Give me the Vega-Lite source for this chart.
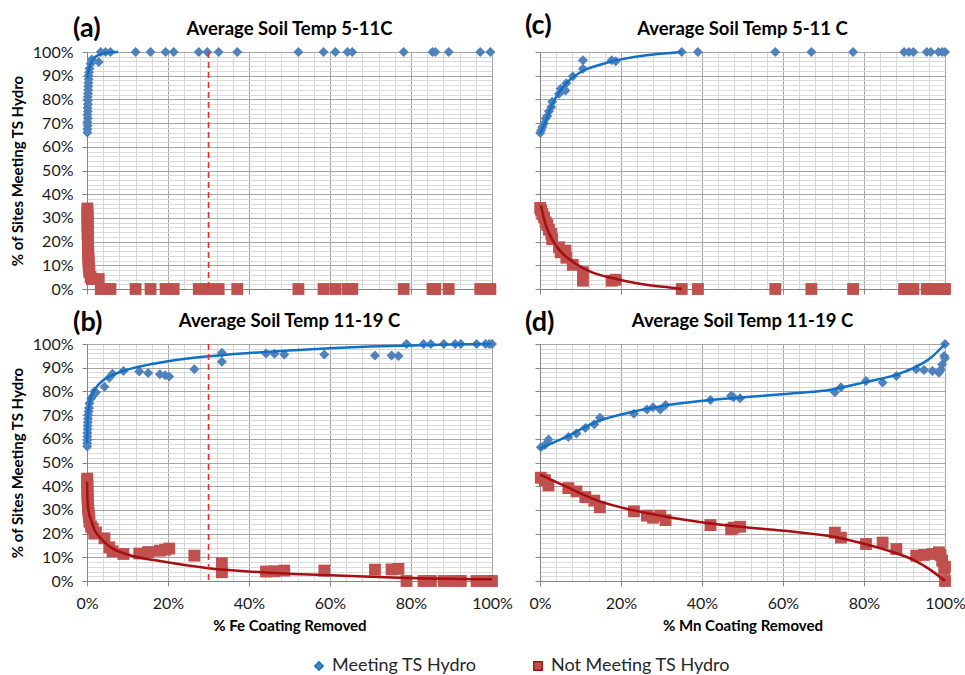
{
  "$schema": "https://vega.github.io/schema/vega-lite/v6.json",
  "background": "white",
  "padding": {"left": 10, "top": 12, "right": 0, "bottom": 0},
  "bounds": "flush",
  "columns": 2,
  "spacing": {"row": 55, "column": 48},
  "datasets": {
    "a_pts": [
      {"x":0.1,"y":66,"s":"Meeting TS Hydro"},{"x":0.1,"y":67.5,"s":"Meeting TS Hydro"},{"x":0.15,"y":69,"s":"Meeting TS Hydro"},{"x":0.1,"y":70.5,"s":"Meeting TS Hydro"},{"x":0.2,"y":72,"s":"Meeting TS Hydro"},{"x":0.1,"y":73.5,"s":"Meeting TS Hydro"},{"x":0.2,"y":75,"s":"Meeting TS Hydro"},{"x":0.15,"y":76.5,"s":"Meeting TS Hydro"},{"x":0.2,"y":78,"s":"Meeting TS Hydro"},{"x":0.25,"y":79.5,"s":"Meeting TS Hydro"},{"x":0.2,"y":81,"s":"Meeting TS Hydro"},{"x":0.25,"y":82.5,"s":"Meeting TS Hydro"},{"x":0.3,"y":84,"s":"Meeting TS Hydro"},{"x":0.3,"y":85.5,"s":"Meeting TS Hydro"},{"x":0.35,"y":87,"s":"Meeting TS Hydro"},{"x":0.4,"y":88.5,"s":"Meeting TS Hydro"},{"x":0.4,"y":90,"s":"Meeting TS Hydro"},{"x":0.5,"y":91.5,"s":"Meeting TS Hydro"},{"x":0.6,"y":93,"s":"Meeting TS Hydro"},{"x":0.9,"y":95,"s":"Meeting TS Hydro"},{"x":1.2,"y":96.8,"s":"Meeting TS Hydro"},{"x":2.9,"y":95.8,"s":"Meeting TS Hydro"},
      {"x":3.4,"y":100,"s":"Meeting TS Hydro"},{"x":4.6,"y":100,"s":"Meeting TS Hydro"},{"x":5.8,"y":100,"s":"Meeting TS Hydro"},{"x":12.0,"y":100,"s":"Meeting TS Hydro"},{"x":15.7,"y":100,"s":"Meeting TS Hydro"},{"x":19.4,"y":100,"s":"Meeting TS Hydro"},{"x":21.4,"y":100,"s":"Meeting TS Hydro"},{"x":27.6,"y":100,"s":"Meeting TS Hydro"},{"x":29.7,"y":100,"s":"Meeting TS Hydro"},{"x":32.5,"y":100,"s":"Meeting TS Hydro"},{"x":37.1,"y":100,"s":"Meeting TS Hydro"},{"x":52.2,"y":100,"s":"Meeting TS Hydro"},{"x":58.4,"y":100,"s":"Meeting TS Hydro"},{"x":61.3,"y":100,"s":"Meeting TS Hydro"},{"x":64.3,"y":100,"s":"Meeting TS Hydro"},{"x":65.5,"y":100,"s":"Meeting TS Hydro"},{"x":78.2,"y":100,"s":"Meeting TS Hydro"},{"x":85.3,"y":100,"s":"Meeting TS Hydro"},{"x":86.0,"y":100,"s":"Meeting TS Hydro"},{"x":89.3,"y":100,"s":"Meeting TS Hydro"},{"x":97.1,"y":100,"s":"Meeting TS Hydro"},{"x":99.6,"y":100,"s":"Meeting TS Hydro"},
      {"x":0.1,"y":34,"s":"Not Meeting TS Hydro"},{"x":0.1,"y":32.5,"s":"Not Meeting TS Hydro"},{"x":0.15,"y":31,"s":"Not Meeting TS Hydro"},{"x":0.1,"y":29.5,"s":"Not Meeting TS Hydro"},{"x":0.2,"y":28,"s":"Not Meeting TS Hydro"},{"x":0.1,"y":26.5,"s":"Not Meeting TS Hydro"},{"x":0.2,"y":25,"s":"Not Meeting TS Hydro"},{"x":0.15,"y":23.5,"s":"Not Meeting TS Hydro"},{"x":0.2,"y":22,"s":"Not Meeting TS Hydro"},{"x":0.25,"y":20.5,"s":"Not Meeting TS Hydro"},{"x":0.2,"y":19,"s":"Not Meeting TS Hydro"},{"x":0.25,"y":17.5,"s":"Not Meeting TS Hydro"},{"x":0.3,"y":16,"s":"Not Meeting TS Hydro"},{"x":0.3,"y":14.5,"s":"Not Meeting TS Hydro"},{"x":0.35,"y":13,"s":"Not Meeting TS Hydro"},{"x":0.4,"y":11.5,"s":"Not Meeting TS Hydro"},{"x":0.4,"y":10,"s":"Not Meeting TS Hydro"},{"x":0.5,"y":8.5,"s":"Not Meeting TS Hydro"},{"x":0.6,"y":7,"s":"Not Meeting TS Hydro"},{"x":0.9,"y":5,"s":"Not Meeting TS Hydro"},{"x":1.2,"y":4.2,"s":"Not Meeting TS Hydro"},{"x":2.9,"y":4.2,"s":"Not Meeting TS Hydro"},
      {"x":3.4,"y":0,"s":"Not Meeting TS Hydro"},{"x":4.6,"y":0,"s":"Not Meeting TS Hydro"},{"x":5.8,"y":0,"s":"Not Meeting TS Hydro"},{"x":12.0,"y":0,"s":"Not Meeting TS Hydro"},{"x":15.7,"y":0,"s":"Not Meeting TS Hydro"},{"x":19.4,"y":0,"s":"Not Meeting TS Hydro"},{"x":21.4,"y":0,"s":"Not Meeting TS Hydro"},{"x":27.6,"y":0,"s":"Not Meeting TS Hydro"},{"x":29.7,"y":0,"s":"Not Meeting TS Hydro"},{"x":32.5,"y":0,"s":"Not Meeting TS Hydro"},{"x":37.1,"y":0,"s":"Not Meeting TS Hydro"},{"x":52.2,"y":0,"s":"Not Meeting TS Hydro"},{"x":58.4,"y":0,"s":"Not Meeting TS Hydro"},{"x":61.3,"y":0,"s":"Not Meeting TS Hydro"},{"x":64.3,"y":0,"s":"Not Meeting TS Hydro"},{"x":65.5,"y":0,"s":"Not Meeting TS Hydro"},{"x":78.2,"y":0,"s":"Not Meeting TS Hydro"},{"x":85.3,"y":0,"s":"Not Meeting TS Hydro"},{"x":86.0,"y":0,"s":"Not Meeting TS Hydro"},{"x":89.3,"y":0,"s":"Not Meeting TS Hydro"},{"x":97.1,"y":0,"s":"Not Meeting TS Hydro"},{"x":99.6,"y":0,"s":"Not Meeting TS Hydro"}
    ],
    "a_fit": [
      {"x":0.1,"y":89,"s":"Meeting TS Hydro"},{"x":0.5,"y":93,"s":"Meeting TS Hydro"},{"x":1,"y":95.5,"s":"Meeting TS Hydro"},{"x":2,"y":97.8,"s":"Meeting TS Hydro"},{"x":3,"y":98.8,"s":"Meeting TS Hydro"},{"x":4,"y":99.4,"s":"Meeting TS Hydro"},{"x":5,"y":99.7,"s":"Meeting TS Hydro"},{"x":6,"y":99.9,"s":"Meeting TS Hydro"},{"x":7.7,"y":100,"s":"Meeting TS Hydro"}
    ],
    "b_pts": [
      {"x":0.05,"y":56.8,"s":"Meeting TS Hydro"},{"x":0.05,"y":58,"s":"Meeting TS Hydro"},{"x":0.1,"y":59.5,"s":"Meeting TS Hydro"},{"x":0.1,"y":61,"s":"Meeting TS Hydro"},{"x":0.1,"y":62.5,"s":"Meeting TS Hydro"},{"x":0.15,"y":64,"s":"Meeting TS Hydro"},{"x":0.15,"y":65.5,"s":"Meeting TS Hydro"},{"x":0.2,"y":67,"s":"Meeting TS Hydro"},{"x":0.25,"y":68.5,"s":"Meeting TS Hydro"},{"x":0.3,"y":70,"s":"Meeting TS Hydro"},{"x":0.4,"y":71.5,"s":"Meeting TS Hydro"},{"x":0.5,"y":73,"s":"Meeting TS Hydro"},{"x":0.6,"y":75,"s":"Meeting TS Hydro"},{"x":1,"y":77,"s":"Meeting TS Hydro"},{"x":1.4,"y":78,"s":"Meeting TS Hydro"},{"x":1.8,"y":80,"s":"Meeting TS Hydro"},{"x":2.2,"y":79.5,"s":"Meeting TS Hydro"},{"x":4.3,"y":82,"s":"Meeting TS Hydro"},{"x":5.5,"y":85.8,"s":"Meeting TS Hydro"},{"x":6.3,"y":87.5,"s":"Meeting TS Hydro"},{"x":9,"y":88.6,"s":"Meeting TS Hydro"},{"x":12.9,"y":88.4,"s":"Meeting TS Hydro"},{"x":15.1,"y":87.8,"s":"Meeting TS Hydro"},{"x":18,"y":87.2,"s":"Meeting TS Hydro"},{"x":19.3,"y":86.8,"s":"Meeting TS Hydro"},{"x":20.3,"y":86.3,"s":"Meeting TS Hydro"},{"x":26.5,"y":89.3,"s":"Meeting TS Hydro"},{"x":33.3,"y":96.3,"s":"Meeting TS Hydro"},{"x":33.3,"y":92.5,"s":"Meeting TS Hydro"},{"x":44.2,"y":96,"s":"Meeting TS Hydro"},{"x":46.3,"y":95.9,"s":"Meeting TS Hydro"},{"x":48.7,"y":95.6,"s":"Meeting TS Hydro"},{"x":58.6,"y":95.6,"s":"Meeting TS Hydro"},{"x":71.1,"y":95.2,"s":"Meeting TS Hydro"},{"x":75.2,"y":95.1,"s":"Meeting TS Hydro"},{"x":76.9,"y":94.9,"s":"Meeting TS Hydro"},{"x":78.9,"y":100,"s":"Meeting TS Hydro"},{"x":83.1,"y":100,"s":"Meeting TS Hydro"},{"x":84.9,"y":100,"s":"Meeting TS Hydro"},{"x":88.1,"y":100,"s":"Meeting TS Hydro"},{"x":90.9,"y":100,"s":"Meeting TS Hydro"},{"x":92.3,"y":100,"s":"Meeting TS Hydro"},{"x":96.2,"y":100,"s":"Meeting TS Hydro"},{"x":98.4,"y":100,"s":"Meeting TS Hydro"},{"x":99.3,"y":100,"s":"Meeting TS Hydro"},{"x":100,"y":100,"s":"Meeting TS Hydro"},
      {"x":0.05,"y":43.2,"s":"Not Meeting TS Hydro"},{"x":0.05,"y":42,"s":"Not Meeting TS Hydro"},{"x":0.1,"y":40.5,"s":"Not Meeting TS Hydro"},{"x":0.1,"y":39,"s":"Not Meeting TS Hydro"},{"x":0.1,"y":37.5,"s":"Not Meeting TS Hydro"},{"x":0.15,"y":36,"s":"Not Meeting TS Hydro"},{"x":0.15,"y":34.5,"s":"Not Meeting TS Hydro"},{"x":0.2,"y":33,"s":"Not Meeting TS Hydro"},{"x":0.25,"y":31.5,"s":"Not Meeting TS Hydro"},{"x":0.3,"y":30,"s":"Not Meeting TS Hydro"},{"x":0.4,"y":28.5,"s":"Not Meeting TS Hydro"},{"x":0.5,"y":27,"s":"Not Meeting TS Hydro"},{"x":0.6,"y":25,"s":"Not Meeting TS Hydro"},{"x":1,"y":23,"s":"Not Meeting TS Hydro"},{"x":1.4,"y":22,"s":"Not Meeting TS Hydro"},{"x":1.8,"y":20,"s":"Not Meeting TS Hydro"},{"x":2.2,"y":20.5,"s":"Not Meeting TS Hydro"},{"x":4.3,"y":18,"s":"Not Meeting TS Hydro"},{"x":5.5,"y":14.2,"s":"Not Meeting TS Hydro"},{"x":6.3,"y":12.5,"s":"Not Meeting TS Hydro"},{"x":9,"y":11.4,"s":"Not Meeting TS Hydro"},{"x":12.9,"y":11.6,"s":"Not Meeting TS Hydro"},{"x":15.1,"y":12.2,"s":"Not Meeting TS Hydro"},{"x":18,"y":12.8,"s":"Not Meeting TS Hydro"},{"x":19.3,"y":13.2,"s":"Not Meeting TS Hydro"},{"x":20.3,"y":13.7,"s":"Not Meeting TS Hydro"},{"x":26.5,"y":10.7,"s":"Not Meeting TS Hydro"},{"x":33.3,"y":3.7,"s":"Not Meeting TS Hydro"},{"x":33.3,"y":7.5,"s":"Not Meeting TS Hydro"},{"x":44.2,"y":4,"s":"Not Meeting TS Hydro"},{"x":46.3,"y":4.1,"s":"Not Meeting TS Hydro"},{"x":48.7,"y":4.4,"s":"Not Meeting TS Hydro"},{"x":58.6,"y":4.4,"s":"Not Meeting TS Hydro"},{"x":71.1,"y":4.8,"s":"Not Meeting TS Hydro"},{"x":75.2,"y":4.9,"s":"Not Meeting TS Hydro"},{"x":76.9,"y":5.1,"s":"Not Meeting TS Hydro"},{"x":78.9,"y":0,"s":"Not Meeting TS Hydro"},{"x":83.1,"y":0,"s":"Not Meeting TS Hydro"},{"x":84.9,"y":0,"s":"Not Meeting TS Hydro"},{"x":88.1,"y":0,"s":"Not Meeting TS Hydro"},{"x":90.9,"y":0,"s":"Not Meeting TS Hydro"},{"x":92.3,"y":0,"s":"Not Meeting TS Hydro"},{"x":96.2,"y":0,"s":"Not Meeting TS Hydro"},{"x":98.4,"y":0,"s":"Not Meeting TS Hydro"},{"x":99.3,"y":0,"s":"Not Meeting TS Hydro"},{"x":100,"y":0,"s":"Not Meeting TS Hydro"}
    ],
    "b_fit": [
      {"x":0.02,"y":58,"s":"Meeting TS Hydro"},{"x":0.1,"y":66,"s":"Meeting TS Hydro"},{"x":0.3,"y":71.5,"s":"Meeting TS Hydro"},{"x":0.6,"y":75,"s":"Meeting TS Hydro"},{"x":1,"y":77.6,"s":"Meeting TS Hydro"},{"x":2,"y":81,"s":"Meeting TS Hydro"},{"x":4,"y":84.7,"s":"Meeting TS Hydro"},{"x":6,"y":86.6,"s":"Meeting TS Hydro"},{"x":9,"y":88.7,"s":"Meeting TS Hydro"},{"x":15,"y":91.2,"s":"Meeting TS Hydro"},{"x":20,"y":92.7,"s":"Meeting TS Hydro"},{"x":30,"y":94.8,"s":"Meeting TS Hydro"},{"x":40,"y":96.2,"s":"Meeting TS Hydro"},{"x":50,"y":97.3,"s":"Meeting TS Hydro"},{"x":60,"y":98.2,"s":"Meeting TS Hydro"},{"x":70,"y":98.9,"s":"Meeting TS Hydro"},{"x":80,"y":99.4,"s":"Meeting TS Hydro"},{"x":90,"y":99.8,"s":"Meeting TS Hydro"},{"x":100,"y":100,"s":"Meeting TS Hydro"},
      {"x":0.02,"y":42,"s":"Not Meeting TS Hydro"},{"x":0.15,"y":33,"s":"Not Meeting TS Hydro"},{"x":0.5,"y":28.5,"s":"Not Meeting TS Hydro"},{"x":1,"y":25.8,"s":"Not Meeting TS Hydro"},{"x":2,"y":21,"s":"Not Meeting TS Hydro"},{"x":3,"y":18.8,"s":"Not Meeting TS Hydro"},{"x":6,"y":14,"s":"Not Meeting TS Hydro"},{"x":10,"y":11.2,"s":"Not Meeting TS Hydro"},{"x":18.7,"y":8.2,"s":"Not Meeting TS Hydro"},{"x":30,"y":5.4,"s":"Not Meeting TS Hydro"},{"x":44,"y":3.6,"s":"Not Meeting TS Hydro"},{"x":60,"y":2.4,"s":"Not Meeting TS Hydro"},{"x":77,"y":1.4,"s":"Not Meeting TS Hydro"},{"x":100,"y":0.7,"s":"Not Meeting TS Hydro"}
    ],
    "c_pts": [
      {"x":0.05,"y":65.8,"s":"Meeting TS Hydro"},{"x":0.3,"y":67,"s":"Meeting TS Hydro"},{"x":0.6,"y":68.4,"s":"Meeting TS Hydro"},{"x":1,"y":69.8,"s":"Meeting TS Hydro"},{"x":1.4,"y":71.9,"s":"Meeting TS Hydro"},{"x":1.8,"y":73,"s":"Meeting TS Hydro"},{"x":2.2,"y":75,"s":"Meeting TS Hydro"},{"x":2.8,"y":76.8,"s":"Meeting TS Hydro"},{"x":3,"y":79,"s":"Meeting TS Hydro"},{"x":4.7,"y":82.4,"s":"Meeting TS Hydro"},{"x":5.1,"y":84.5,"s":"Meeting TS Hydro"},{"x":6.3,"y":83.8,"s":"Meeting TS Hydro"},{"x":6.5,"y":86.8,"s":"Meeting TS Hydro"},{"x":8.1,"y":89.8,"s":"Meeting TS Hydro"},{"x":10.6,"y":92.9,"s":"Meeting TS Hydro"},{"x":10.6,"y":96.5,"s":"Meeting TS Hydro"},{"x":17.7,"y":96.5,"s":"Meeting TS Hydro"},{"x":18.7,"y":96.1,"s":"Meeting TS Hydro"},{"x":35.0,"y":100,"s":"Meeting TS Hydro"},{"x":39.0,"y":100,"s":"Meeting TS Hydro"},{"x":58.1,"y":100,"s":"Meeting TS Hydro"},{"x":67.0,"y":100,"s":"Meeting TS Hydro"},{"x":77.3,"y":100,"s":"Meeting TS Hydro"},{"x":89.9,"y":100,"s":"Meeting TS Hydro"},{"x":91.1,"y":100,"s":"Meeting TS Hydro"},{"x":92.2,"y":100,"s":"Meeting TS Hydro"},{"x":95.5,"y":100,"s":"Meeting TS Hydro"},{"x":96.5,"y":100,"s":"Meeting TS Hydro"},{"x":98.4,"y":100,"s":"Meeting TS Hydro"},{"x":99.3,"y":100,"s":"Meeting TS Hydro"},{"x":100,"y":100,"s":"Meeting TS Hydro"},
      {"x":0.05,"y":34.2,"s":"Not Meeting TS Hydro"},{"x":0.3,"y":33,"s":"Not Meeting TS Hydro"},{"x":0.6,"y":31.6,"s":"Not Meeting TS Hydro"},{"x":1,"y":30.2,"s":"Not Meeting TS Hydro"},{"x":1.4,"y":28.1,"s":"Not Meeting TS Hydro"},{"x":1.8,"y":27,"s":"Not Meeting TS Hydro"},{"x":2.2,"y":25,"s":"Not Meeting TS Hydro"},{"x":2.8,"y":23.2,"s":"Not Meeting TS Hydro"},{"x":3,"y":21,"s":"Not Meeting TS Hydro"},{"x":4.7,"y":17.6,"s":"Not Meeting TS Hydro"},{"x":5.1,"y":15.5,"s":"Not Meeting TS Hydro"},{"x":6.3,"y":16.2,"s":"Not Meeting TS Hydro"},{"x":6.5,"y":13.2,"s":"Not Meeting TS Hydro"},{"x":8.1,"y":10.2,"s":"Not Meeting TS Hydro"},{"x":10.6,"y":7.1,"s":"Not Meeting TS Hydro"},{"x":10.6,"y":3.5,"s":"Not Meeting TS Hydro"},{"x":17.7,"y":3.5,"s":"Not Meeting TS Hydro"},{"x":18.7,"y":3.9,"s":"Not Meeting TS Hydro"},{"x":35.0,"y":0,"s":"Not Meeting TS Hydro"},{"x":39.0,"y":0,"s":"Not Meeting TS Hydro"},{"x":58.1,"y":0,"s":"Not Meeting TS Hydro"},{"x":67.0,"y":0,"s":"Not Meeting TS Hydro"},{"x":77.3,"y":0,"s":"Not Meeting TS Hydro"},{"x":89.9,"y":0,"s":"Not Meeting TS Hydro"},{"x":91.1,"y":0,"s":"Not Meeting TS Hydro"},{"x":92.2,"y":0,"s":"Not Meeting TS Hydro"},{"x":95.5,"y":0,"s":"Not Meeting TS Hydro"},{"x":96.5,"y":0,"s":"Not Meeting TS Hydro"},{"x":98.4,"y":0,"s":"Not Meeting TS Hydro"},{"x":99.3,"y":0,"s":"Not Meeting TS Hydro"},{"x":100,"y":0,"s":"Not Meeting TS Hydro"}
    ],
    "c_fit": [
      {"x":0.05,"y":65.5,"s":"Meeting TS Hydro"},{"x":1.2,"y":70,"s":"Meeting TS Hydro"},{"x":3,"y":77.8,"s":"Meeting TS Hydro"},{"x":4.7,"y":83,"s":"Meeting TS Hydro"},{"x":6.9,"y":87.5,"s":"Meeting TS Hydro"},{"x":10.9,"y":92.3,"s":"Meeting TS Hydro"},{"x":14.6,"y":94.5,"s":"Meeting TS Hydro"},{"x":18.3,"y":96.3,"s":"Meeting TS Hydro"},{"x":25.7,"y":98.5,"s":"Meeting TS Hydro"},{"x":35,"y":100,"s":"Meeting TS Hydro"},
      {"x":0.2,"y":35.3,"s":"Not Meeting TS Hydro"},{"x":1.2,"y":28.3,"s":"Not Meeting TS Hydro"},{"x":4.2,"y":17.7,"s":"Not Meeting TS Hydro"},{"x":7.6,"y":12.1,"s":"Not Meeting TS Hydro"},{"x":11.7,"y":7.9,"s":"Not Meeting TS Hydro"},{"x":18.3,"y":4.4,"s":"Not Meeting TS Hydro"},{"x":25.7,"y":1.9,"s":"Not Meeting TS Hydro"},{"x":33.1,"y":0.4,"s":"Not Meeting TS Hydro"},{"x":35,"y":0,"s":"Not Meeting TS Hydro"}
    ],
    "d_pts": [
      {"x":0.2,"y":56.4,"s":"Meeting TS Hydro"},{"x":1.2,"y":57.4,"s":"Meeting TS Hydro"},{"x":2.1,"y":59.7,"s":"Meeting TS Hydro"},{"x":7,"y":60.8,"s":"Meeting TS Hydro"},{"x":9,"y":62.2,"s":"Meeting TS Hydro"},{"x":11.2,"y":64.6,"s":"Meeting TS Hydro"},{"x":13.4,"y":66.1,"s":"Meeting TS Hydro"},{"x":14.8,"y":68.9,"s":"Meeting TS Hydro"},{"x":23.2,"y":70.6,"s":"Meeting TS Hydro"},{"x":26.4,"y":72.4,"s":"Meeting TS Hydro"},{"x":27.9,"y":73.3,"s":"Meeting TS Hydro"},{"x":29.7,"y":72.4,"s":"Meeting TS Hydro"},{"x":31,"y":74.3,"s":"Meeting TS Hydro"},{"x":42.1,"y":76.4,"s":"Meeting TS Hydro"},{"x":47.2,"y":78.2,"s":"Meeting TS Hydro"},{"x":47.8,"y":77.5,"s":"Meeting TS Hydro"},{"x":49.4,"y":77.1,"s":"Meeting TS Hydro"},{"x":72.8,"y":79.6,"s":"Meeting TS Hydro"},{"x":74.3,"y":81.7,"s":"Meeting TS Hydro"},{"x":80.5,"y":84.4,"s":"Meeting TS Hydro"},{"x":84.6,"y":83.8,"s":"Meeting TS Hydro"},{"x":88,"y":86.5,"s":"Meeting TS Hydro"},{"x":92.9,"y":89.3,"s":"Meeting TS Hydro"},{"x":94.8,"y":89,"s":"Meeting TS Hydro"},{"x":96.9,"y":88.6,"s":"Meeting TS Hydro"},{"x":98.5,"y":87.9,"s":"Meeting TS Hydro"},{"x":98.9,"y":89,"s":"Meeting TS Hydro"},{"x":99.3,"y":91.4,"s":"Meeting TS Hydro"},{"x":99.8,"y":94.9,"s":"Meeting TS Hydro"},{"x":100,"y":94,"s":"Meeting TS Hydro"},{"x":100,"y":100,"s":"Meeting TS Hydro"},
      {"x":0.2,"y":43.6,"s":"Not Meeting TS Hydro"},{"x":1.2,"y":42.6,"s":"Not Meeting TS Hydro"},{"x":2.1,"y":40.3,"s":"Not Meeting TS Hydro"},{"x":7,"y":39.2,"s":"Not Meeting TS Hydro"},{"x":9,"y":37.8,"s":"Not Meeting TS Hydro"},{"x":11.2,"y":35.4,"s":"Not Meeting TS Hydro"},{"x":13.4,"y":33.9,"s":"Not Meeting TS Hydro"},{"x":14.8,"y":31.1,"s":"Not Meeting TS Hydro"},{"x":23.2,"y":29.4,"s":"Not Meeting TS Hydro"},{"x":26.4,"y":27.6,"s":"Not Meeting TS Hydro"},{"x":27.9,"y":26.7,"s":"Not Meeting TS Hydro"},{"x":29.7,"y":27.6,"s":"Not Meeting TS Hydro"},{"x":31,"y":25.7,"s":"Not Meeting TS Hydro"},{"x":42.1,"y":23.6,"s":"Not Meeting TS Hydro"},{"x":47.2,"y":21.8,"s":"Not Meeting TS Hydro"},{"x":47.8,"y":22.5,"s":"Not Meeting TS Hydro"},{"x":49.4,"y":22.9,"s":"Not Meeting TS Hydro"},{"x":72.8,"y":20.4,"s":"Not Meeting TS Hydro"},{"x":74.3,"y":18.3,"s":"Not Meeting TS Hydro"},{"x":80.5,"y":15.6,"s":"Not Meeting TS Hydro"},{"x":84.6,"y":16.2,"s":"Not Meeting TS Hydro"},{"x":88,"y":13.5,"s":"Not Meeting TS Hydro"},{"x":92.9,"y":10.7,"s":"Not Meeting TS Hydro"},{"x":94.8,"y":11,"s":"Not Meeting TS Hydro"},{"x":96.9,"y":11.4,"s":"Not Meeting TS Hydro"},{"x":98.5,"y":12.1,"s":"Not Meeting TS Hydro"},{"x":98.9,"y":11,"s":"Not Meeting TS Hydro"},{"x":99.3,"y":8.6,"s":"Not Meeting TS Hydro"},{"x":99.8,"y":5.1,"s":"Not Meeting TS Hydro"},{"x":100,"y":6,"s":"Not Meeting TS Hydro"},{"x":100,"y":0,"s":"Not Meeting TS Hydro"}
    ],
    "d_fit": [
      {"x":0,"y":56,"s":"Meeting TS Hydro"},{"x":6.2,"y":60.6,"s":"Meeting TS Hydro"},{"x":14.4,"y":67.5,"s":"Meeting TS Hydro"},{"x":22.6,"y":71.3,"s":"Meeting TS Hydro"},{"x":30.8,"y":74,"s":"Meeting TS Hydro"},{"x":39,"y":75.8,"s":"Meeting TS Hydro"},{"x":47.2,"y":77.1,"s":"Meeting TS Hydro"},{"x":55.4,"y":78.2,"s":"Meeting TS Hydro"},{"x":63.6,"y":79.3,"s":"Meeting TS Hydro"},{"x":71.8,"y":80.7,"s":"Meeting TS Hydro"},{"x":80,"y":83.8,"s":"Meeting TS Hydro"},{"x":88.3,"y":87.2,"s":"Meeting TS Hydro"},{"x":92.4,"y":90,"s":"Meeting TS Hydro"},{"x":96.5,"y":94.2,"s":"Meeting TS Hydro"},{"x":100,"y":100,"s":"Meeting TS Hydro"},
      {"x":0,"y":44.9,"s":"Not Meeting TS Hydro"},{"x":6.2,"y":40,"s":"Not Meeting TS Hydro"},{"x":14.4,"y":33.8,"s":"Not Meeting TS Hydro"},{"x":22.6,"y":30,"s":"Not Meeting TS Hydro"},{"x":30.8,"y":27.2,"s":"Not Meeting TS Hydro"},{"x":39,"y":25,"s":"Not Meeting TS Hydro"},{"x":47.2,"y":23.3,"s":"Not Meeting TS Hydro"},{"x":55.4,"y":21.9,"s":"Not Meeting TS Hydro"},{"x":63.6,"y":20.6,"s":"Not Meeting TS Hydro"},{"x":71.8,"y":18.9,"s":"Not Meeting TS Hydro"},{"x":80,"y":15.7,"s":"Not Meeting TS Hydro"},{"x":88.3,"y":11.5,"s":"Not Meeting TS Hydro"},{"x":92.4,"y":8.75,"s":"Not Meeting TS Hydro"},{"x":96.5,"y":4.6,"s":"Not Meeting TS Hydro"},{"x":100,"y":0,"s":"Not Meeting TS Hydro"}
    ],
    "thresh": [{"x":30}],
    "lab_a": [{"label":"(a)","title":"Average Soil Temp 5-11C"}],
    "lab_b": [{"label":"(b)","title":"Average Soil Temp 11-19 C"}],
    "lab_c": [{"label":"(c)","title":"Average Soil Temp 5-11 C"}],
    "lab_d": [{"label":"(d)","title":"Average Soil Temp 11-19 C"}]
  },
  "concat": [
    {
      "width": 405, "height": 237,
      "resolve": {"axis": {"x": "independent", "y": "independent"}},
      "layer": [
        {"data": {"name": "a_pts"}, "mark": {"type": "point", "opacity": 0},
         "encoding": {
           "x": {"field": "x", "type": "quantitative", "scale": {"domain": [0, 100], "nice": false, "zero": false}, "axis": {"orient": "bottom", "values": [4,8,12,16,24,28,32,36,44,48,52,56,64,68,72,76,84,88,92,96], "grid": true, "gridColor": "#d9d9d9", "labels": false, "ticks": false, "domain": false, "title": null}},
           "y": {"field": "y", "type": "quantitative", "scale": {"domain": [0, 100], "nice": false, "zero": false}, "axis": {"orient": "left", "values": [2,4,6,8,12,14,16,18,22,24,26,28,32,34,36,38,42,44,46,48,52,54,56,58,62,64,66,68,72,74,76,78,82,84,86,88,92,94,96,98], "grid": true, "gridColor": "#d9d9d9", "labels": false, "ticks": false, "domain": false, "title": null}}
         }},
        {"data": {"name": "a_pts"}, "transform": [{"filter": "datum.s === 'Meeting TS Hydro'"}], "mark": {"type": "point", "filled": true, "opacity": 1, "size": 100},
         "encoding": {
           "x": {"field": "x", "type": "quantitative", "scale": {"domain": [0, 100], "nice": false, "zero": false}, "axis": {"orient": "bottom", "values": [0,20,40,60,80,100], "grid": true, "gridColor": "#a6a6a6", "labels": false, "title": null}},
           "y": {"field": "y", "type": "quantitative", "scale": {"domain": [0, 100], "nice": false, "zero": false}, "axis": {"orient": "left", "values": [0,10,20,30,40,50,60,70,80,90,100], "grid": true, "gridColor": "#a6a6a6", "labelExpr": "datum.value + '%'", "title": "% of Sites Meeting TS Hydro"}},
           "color": {"field": "s", "type": "nominal", "scale": {"domain": ["Meeting TS Hydro", "Not Meeting TS Hydro"], "range": ["#4f81bd", "#c0504d"]}, "legend": {"title": " ", "titleOrient": "left", "titlePadding": 66, "symbolSize": 70, "encode": {"symbols": {"update": {"size": {"value": 70}}}}}},
           "shape": {"field": "s", "type": "nominal", "scale": {"domain": ["Meeting TS Hydro", "Not Meeting TS Hydro"], "range": ["diamond", "square"]}, "legend": {"title": " ", "titleOrient": "left", "titlePadding": 66, "symbolSize": 70, "encode": {"symbols": {"update": {"size": {"value": 70}}}}}}
         }},
        {"data": {"name": "a_pts"}, "transform": [{"filter": "datum.s === 'Not Meeting TS Hydro'"}], "mark": {"type": "point", "filled": true, "opacity": 1, "size": 140},
         "encoding": {
           "x": {"field": "x", "type": "quantitative", "axis": null},
           "y": {"field": "y", "type": "quantitative", "axis": null},
           "color": {"field": "s", "type": "nominal", "legend": {"title": " ", "titleOrient": "left", "titlePadding": 66, "symbolSize": 70, "encode": {"symbols": {"update": {"size": {"value": 70}}}}}},
           "shape": {"field": "s", "type": "nominal", "legend": {"title": " ", "titleOrient": "left", "titlePadding": 66, "symbolSize": 70, "encode": {"symbols": {"update": {"size": {"value": 70}}}}}}
         }},
        {"data": {"name": "a_fit"}, "mark": {"type": "line", "strokeWidth": 2.5, "interpolate": "monotone"},
         "encoding": {
           "x": {"field": "x", "type": "quantitative", "axis": null},
           "y": {"field": "y", "type": "quantitative", "axis": null},
           "stroke": {"field": "s", "type": "nominal", "scale": {"domain": ["Meeting TS Hydro", "Not Meeting TS Hydro"], "range": ["#1170c4", "#a50f12"]}, "legend": null}
         }},
        {"data": {"name": "thresh"}, "mark": {"type": "rule", "color": "#f0282a", "strokeDash": [6, 4], "strokeWidth": 1.5},
         "encoding": {"x": {"field": "x", "type": "quantitative", "axis": null}}},
        {"data": {"name": "lab_a"}, "mark": {"type": "text", "align": "left", "baseline": "middle", "dx": -14, "dy": -23, "fontSize": 27, "fontWeight": "bold", "color": "#000"},
         "encoding": {"text": {"field": "label"}, "x": {"datum": 0, "type": "quantitative", "axis": null}, "y": {"datum": 100, "type": "quantitative", "axis": null}}},
        {"data": {"name": "lab_a"}, "mark": {"type": "text", "align": "center", "baseline": "middle", "dy": -23, "fontSize": 18.5, "fontWeight": "bold", "color": "#000"},
         "encoding": {"text": {"field": "title"}, "x": {"datum": 50, "type": "quantitative", "axis": null}, "y": {"datum": 100, "type": "quantitative", "axis": null}}}
      ]
    },
    {
      "width": 405, "height": 237,
      "resolve": {"axis": {"x": "independent", "y": "independent"}},
      "layer": [
        {"data": {"name": "c_pts"}, "mark": {"type": "point", "opacity": 0},
         "encoding": {
           "x": {"field": "x", "type": "quantitative", "scale": {"domain": [0, 100], "nice": false, "zero": false}, "axis": {"orient": "bottom", "values": [4,8,12,16,24,28,32,36,44,48,52,56,64,68,72,76,84,88,92,96], "grid": true, "gridColor": "#d9d9d9", "labels": false, "ticks": false, "domain": false, "title": null}},
           "y": {"field": "y", "type": "quantitative", "scale": {"domain": [0, 100], "nice": false, "zero": false}, "axis": {"orient": "left", "values": [2,4,6,8,12,14,16,18,22,24,26,28,32,34,36,38,42,44,46,48,52,54,56,58,62,64,66,68,72,74,76,78,82,84,86,88,92,94,96,98], "grid": true, "gridColor": "#d9d9d9", "labels": false, "ticks": false, "domain": false, "title": null}}
         }},
        {"data": {"name": "c_pts"}, "transform": [{"filter": "datum.s === 'Meeting TS Hydro'"}], "mark": {"type": "point", "filled": true, "opacity": 1, "size": 100},
         "encoding": {
           "x": {"field": "x", "type": "quantitative", "scale": {"domain": [0, 100], "nice": false, "zero": false}, "axis": {"orient": "bottom", "values": [0,20,40,60,80,100], "grid": true, "gridColor": "#a6a6a6", "labels": false, "title": null}},
           "y": {"field": "y", "type": "quantitative", "scale": {"domain": [0, 100], "nice": false, "zero": false}, "axis": {"orient": "left", "values": [0,10,20,30,40,50,60,70,80,90,100], "grid": true, "gridColor": "#a6a6a6", "labels": false, "title": null}},
           "color": {"field": "s", "type": "nominal", "scale": {"domain": ["Meeting TS Hydro", "Not Meeting TS Hydro"], "range": ["#4f81bd", "#c0504d"]}, "legend": {"title": " ", "titleOrient": "left", "titlePadding": 66, "symbolSize": 70, "encode": {"symbols": {"update": {"size": {"value": 70}}}}}},
           "shape": {"field": "s", "type": "nominal", "scale": {"domain": ["Meeting TS Hydro", "Not Meeting TS Hydro"], "range": ["diamond", "square"]}, "legend": {"title": " ", "titleOrient": "left", "titlePadding": 66, "symbolSize": 70, "encode": {"symbols": {"update": {"size": {"value": 70}}}}}}
         }},
        {"data": {"name": "c_pts"}, "transform": [{"filter": "datum.s === 'Not Meeting TS Hydro'"}], "mark": {"type": "point", "filled": true, "opacity": 1, "size": 140},
         "encoding": {
           "x": {"field": "x", "type": "quantitative", "axis": null},
           "y": {"field": "y", "type": "quantitative", "axis": null},
           "color": {"field": "s", "type": "nominal", "legend": {"title": " ", "titleOrient": "left", "titlePadding": 66, "symbolSize": 70, "encode": {"symbols": {"update": {"size": {"value": 70}}}}}},
           "shape": {"field": "s", "type": "nominal", "legend": {"title": " ", "titleOrient": "left", "titlePadding": 66, "symbolSize": 70, "encode": {"symbols": {"update": {"size": {"value": 70}}}}}}
         }},
        {"data": {"name": "c_fit"}, "mark": {"type": "line", "strokeWidth": 2.5, "interpolate": "monotone"},
         "encoding": {
           "x": {"field": "x", "type": "quantitative", "axis": null},
           "y": {"field": "y", "type": "quantitative", "axis": null},
           "stroke": {"field": "s", "type": "nominal", "scale": {"domain": ["Meeting TS Hydro", "Not Meeting TS Hydro"], "range": ["#1170c4", "#a50f12"]}, "legend": null}
         }},
        {"data": {"name": "lab_c"}, "mark": {"type": "text", "align": "left", "baseline": "middle", "dx": -15, "dy": -26, "fontSize": 27, "fontWeight": "bold", "color": "#000"},
         "encoding": {"text": {"field": "label"}, "x": {"datum": 0, "type": "quantitative", "axis": null}, "y": {"datum": 100, "type": "quantitative", "axis": null}}},
        {"data": {"name": "lab_c"}, "mark": {"type": "text", "align": "center", "baseline": "middle", "dy": -23, "fontSize": 18.5, "fontWeight": "bold", "color": "#000"},
         "encoding": {"text": {"field": "title"}, "x": {"datum": 50, "type": "quantitative", "axis": null}, "y": {"datum": 100, "type": "quantitative", "axis": null}}}
      ]
    },
    {
      "width": 405, "height": 237,
      "resolve": {"axis": {"x": "independent", "y": "independent"}},
      "layer": [
        {"data": {"name": "b_pts"}, "mark": {"type": "point", "opacity": 0},
         "encoding": {
           "x": {"field": "x", "type": "quantitative", "scale": {"domain": [0, 100], "nice": false, "zero": false}, "axis": {"orient": "bottom", "values": [4,8,12,16,24,28,32,36,44,48,52,56,64,68,72,76,84,88,92,96], "grid": true, "gridColor": "#d9d9d9", "labels": false, "ticks": false, "domain": false, "title": null}},
           "y": {"field": "y", "type": "quantitative", "scale": {"domain": [0, 100], "nice": false, "zero": false}, "axis": {"orient": "left", "values": [2,4,6,8,12,14,16,18,22,24,26,28,32,34,36,38,42,44,46,48,52,54,56,58,62,64,66,68,72,74,76,78,82,84,86,88,92,94,96,98], "grid": true, "gridColor": "#d9d9d9", "labels": false, "ticks": false, "domain": false, "title": null}}
         }},
        {"data": {"name": "b_pts"}, "transform": [{"filter": "datum.s === 'Meeting TS Hydro'"}], "mark": {"type": "point", "filled": true, "opacity": 1, "size": 100},
         "encoding": {
           "x": {"field": "x", "type": "quantitative", "scale": {"domain": [0, 100], "nice": false, "zero": false}, "axis": {"orient": "bottom", "values": [0,20,40,60,80,100], "grid": true, "gridColor": "#a6a6a6", "labelExpr": "datum.value + '%'", "title": "% Fe Coating Removed"}},
           "y": {"field": "y", "type": "quantitative", "scale": {"domain": [0, 100], "nice": false, "zero": false}, "axis": {"orient": "left", "values": [0,10,20,30,40,50,60,70,80,90,100], "grid": true, "gridColor": "#a6a6a6", "labelExpr": "datum.value + '%'", "title": "% of Sites Meeting TS Hydro"}},
           "color": {"field": "s", "type": "nominal", "scale": {"domain": ["Meeting TS Hydro", "Not Meeting TS Hydro"], "range": ["#4f81bd", "#c0504d"]}, "legend": {"title": " ", "titleOrient": "left", "titlePadding": 66, "symbolSize": 70, "encode": {"symbols": {"update": {"size": {"value": 70}}}}}},
           "shape": {"field": "s", "type": "nominal", "scale": {"domain": ["Meeting TS Hydro", "Not Meeting TS Hydro"], "range": ["diamond", "square"]}, "legend": {"title": " ", "titleOrient": "left", "titlePadding": 66, "symbolSize": 70, "encode": {"symbols": {"update": {"size": {"value": 70}}}}}}
         }},
        {"data": {"name": "b_pts"}, "transform": [{"filter": "datum.s === 'Not Meeting TS Hydro'"}], "mark": {"type": "point", "filled": true, "opacity": 1, "size": 140},
         "encoding": {
           "x": {"field": "x", "type": "quantitative", "axis": null},
           "y": {"field": "y", "type": "quantitative", "axis": null},
           "color": {"field": "s", "type": "nominal", "legend": {"title": " ", "titleOrient": "left", "titlePadding": 66, "symbolSize": 70, "encode": {"symbols": {"update": {"size": {"value": 70}}}}}},
           "shape": {"field": "s", "type": "nominal", "legend": {"title": " ", "titleOrient": "left", "titlePadding": 66, "symbolSize": 70, "encode": {"symbols": {"update": {"size": {"value": 70}}}}}}
         }},
        {"data": {"name": "b_fit"}, "mark": {"type": "line", "strokeWidth": 2.5, "interpolate": "monotone"},
         "encoding": {
           "x": {"field": "x", "type": "quantitative", "axis": null},
           "y": {"field": "y", "type": "quantitative", "axis": null},
           "stroke": {"field": "s", "type": "nominal", "scale": {"domain": ["Meeting TS Hydro", "Not Meeting TS Hydro"], "range": ["#1170c4", "#a50f12"]}, "legend": null}
         }},
        {"data": {"name": "thresh"}, "mark": {"type": "rule", "color": "#f0282a", "strokeDash": [6, 4], "strokeWidth": 1.5},
         "encoding": {"x": {"field": "x", "type": "quantitative", "axis": null}}},
        {"data": {"name": "lab_b"}, "mark": {"type": "text", "align": "left", "baseline": "middle", "dx": -14, "dy": -21, "fontSize": 27, "fontWeight": "bold", "color": "#000"},
         "encoding": {"text": {"field": "label"}, "x": {"datum": 0, "type": "quantitative", "axis": null}, "y": {"datum": 100, "type": "quantitative", "axis": null}}},
        {"data": {"name": "lab_b"}, "mark": {"type": "text", "align": "center", "baseline": "middle", "dy": -23, "fontSize": 18.5, "fontWeight": "bold", "color": "#000"},
         "encoding": {"text": {"field": "title"}, "x": {"datum": 50, "type": "quantitative", "axis": null}, "y": {"datum": 100, "type": "quantitative", "axis": null}}}
      ]
    },
    {
      "width": 405, "height": 237,
      "resolve": {"axis": {"x": "independent", "y": "independent"}},
      "layer": [
        {"data": {"name": "d_pts"}, "mark": {"type": "point", "opacity": 0},
         "encoding": {
           "x": {"field": "x", "type": "quantitative", "scale": {"domain": [0, 100], "nice": false, "zero": false}, "axis": {"orient": "bottom", "values": [4,8,12,16,24,28,32,36,44,48,52,56,64,68,72,76,84,88,92,96], "grid": true, "gridColor": "#d9d9d9", "labels": false, "ticks": false, "domain": false, "title": null}},
           "y": {"field": "y", "type": "quantitative", "scale": {"domain": [0, 100], "nice": false, "zero": false}, "axis": {"orient": "left", "values": [2,4,6,8,12,14,16,18,22,24,26,28,32,34,36,38,42,44,46,48,52,54,56,58,62,64,66,68,72,74,76,78,82,84,86,88,92,94,96,98], "grid": true, "gridColor": "#d9d9d9", "labels": false, "ticks": false, "domain": false, "title": null}}
         }},
        {"data": {"name": "d_pts"}, "transform": [{"filter": "datum.s === 'Meeting TS Hydro'"}], "mark": {"type": "point", "filled": true, "opacity": 1, "size": 100},
         "encoding": {
           "x": {"field": "x", "type": "quantitative", "scale": {"domain": [0, 100], "nice": false, "zero": false}, "axis": {"orient": "bottom", "values": [0,20,40,60,80,100], "grid": true, "gridColor": "#a6a6a6", "labelExpr": "datum.value + '%'", "title": "% Mn Coating Removed"}},
           "y": {"field": "y", "type": "quantitative", "scale": {"domain": [0, 100], "nice": false, "zero": false}, "axis": {"orient": "left", "values": [0,10,20,30,40,50,60,70,80,90,100], "grid": true, "gridColor": "#a6a6a6", "labels": false, "title": null}},
           "color": {"field": "s", "type": "nominal", "scale": {"domain": ["Meeting TS Hydro", "Not Meeting TS Hydro"], "range": ["#4f81bd", "#c0504d"]}, "legend": {"title": " ", "titleOrient": "left", "titlePadding": 66, "symbolSize": 70, "encode": {"symbols": {"update": {"size": {"value": 70}}}}}},
           "shape": {"field": "s", "type": "nominal", "scale": {"domain": ["Meeting TS Hydro", "Not Meeting TS Hydro"], "range": ["diamond", "square"]}, "legend": {"title": " ", "titleOrient": "left", "titlePadding": 66, "symbolSize": 70, "encode": {"symbols": {"update": {"size": {"value": 70}}}}}}
         }},
        {"data": {"name": "d_pts"}, "transform": [{"filter": "datum.s === 'Not Meeting TS Hydro'"}], "mark": {"type": "point", "filled": true, "opacity": 1, "size": 140},
         "encoding": {
           "x": {"field": "x", "type": "quantitative", "axis": null},
           "y": {"field": "y", "type": "quantitative", "axis": null},
           "color": {"field": "s", "type": "nominal", "legend": {"title": " ", "titleOrient": "left", "titlePadding": 66, "symbolSize": 70, "encode": {"symbols": {"update": {"size": {"value": 70}}}}}},
           "shape": {"field": "s", "type": "nominal", "legend": {"title": " ", "titleOrient": "left", "titlePadding": 66, "symbolSize": 70, "encode": {"symbols": {"update": {"size": {"value": 70}}}}}}
         }},
        {"data": {"name": "d_fit"}, "mark": {"type": "line", "strokeWidth": 2.5, "interpolate": "monotone"},
         "encoding": {
           "x": {"field": "x", "type": "quantitative", "axis": null},
           "y": {"field": "y", "type": "quantitative", "axis": null},
           "stroke": {"field": "s", "type": "nominal", "scale": {"domain": ["Meeting TS Hydro", "Not Meeting TS Hydro"], "range": ["#1170c4", "#a50f12"]}, "legend": null}
         }},
        {"data": {"name": "lab_d"}, "mark": {"type": "text", "align": "left", "baseline": "middle", "dx": -15, "dy": -21, "fontSize": 27, "fontWeight": "bold", "color": "#000"},
         "encoding": {"text": {"field": "label"}, "x": {"datum": 0, "type": "quantitative", "axis": null}, "y": {"datum": 100, "type": "quantitative", "axis": null}}},
        {"data": {"name": "lab_d"}, "mark": {"type": "text", "align": "center", "baseline": "middle", "dy": -23, "fontSize": 18.5, "fontWeight": "bold", "color": "#000"},
         "encoding": {"text": {"field": "title"}, "x": {"datum": 50, "type": "quantitative", "axis": null}, "y": {"datum": 100, "type": "quantitative", "axis": null}}}
      ]
    }
  ],
  "resolve": {"scale": {"color": "shared", "shape": "shared", "stroke": "shared"}},
  "config": {
    "font": "Lato",
    "view": {"stroke": null},
    "axis": {"labelFont": "Lato", "labelFontSize": 16, "labelColor": "#1a1a1a", "labelFlush": false, "labelOverlap": false, "titleFont": "Lato", "titleFontSize": 15, "titleFontWeight": "bold", "titleColor": "#000", "tickColor": "#868686", "domainColor": "#868686", "tickSize": 5, "labelPadding": 9, "titlePadding": 7, "gridWidth": 1},
    "legend": {"orient": "bottom", "direction": "horizontal", "labelFont": "Lato", "labelFontSize": 18, "labelColor": "#262626", "labelLimit": 400, "symbolSize": 70, "columnPadding": 52, "offset": 24, "layout": {"bottom": {"anchor": "middle"}}}
  }
}
